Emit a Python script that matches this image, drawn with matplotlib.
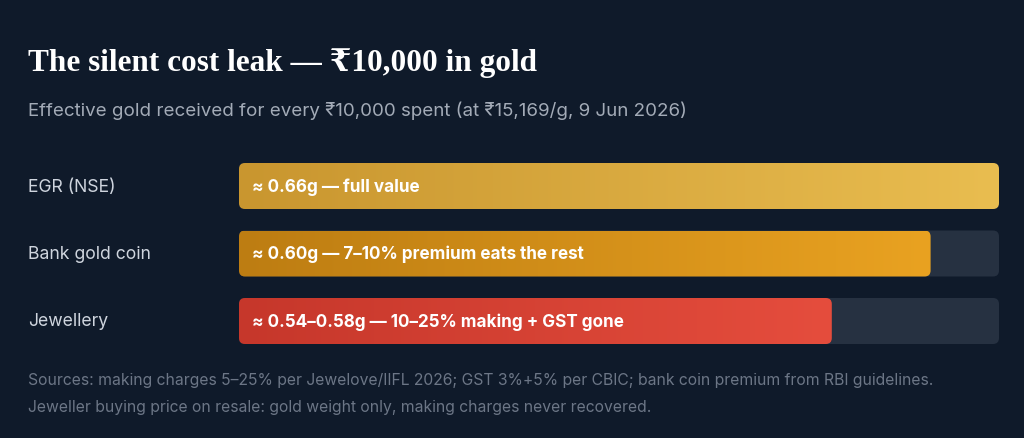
import numpy as np
import matplotlib.pyplot as plt
from matplotlib import rcParams
from matplotlib.patches import FancyBboxPatch
from matplotlib.colors import LinearSegmentedColormap
import matplotlib.transforms as mtransforms

rcParams['font.family'] = ['Inter', 'DejaVu Sans']

# data
categories = ['EGR (NSE)', 'Bank gold coin', 'Jewellery']
share_pct = [100, 91, 78]  # bar length as % of the full-value bar
bar_labels = ['≈ 0.66g — full value',
              '≈ 0.60g — 7–10% premium eats the rest',
              '≈ 0.54–0.58g — 10–25% making + GST gone']
grad_colors = [('#c9962f', '#e9bd50'),
               ('#bd7d12', '#e9a221'),
               ('#c6372b', '#e54d3d')]
title = 'The silent cost leak — ₹10,000 in gold'
subtitle = 'Effective gold received for every ₹10,000 spent (at ₹15,169/g, 9 Jun 2026)'
notes = ['Sources: making charges 5–25% per Jewelove/IIFL 2026; GST 3%+5% per CBIC; '
         'bank coin premium from RBI guidelines.',
         'Jeweller buying price on resale: gold weight only, making charges never recovered.']

bg = '#0f1a2a'
track = '#263141'
W, H = 1024, 439

fig = plt.figure(figsize=(W / 100, H / 100), dpi=100, facecolor=bg)

# bar area: x 239..999 px, rows centred at 186 / 253.5 / 321 px
row_px = 67.5
top_px = 187 - row_px / 2
ax = fig.add_axes([239 / W, 1 - (top_px + 3 * row_px) / H, 760 / W, 3 * row_px / H])
ax.axis('off')

bar_h = 46 / row_px
r_x = 6 / 7.6
aspect = (1 / row_px) / (1 / 7.6)
trans = mtransforms.blended_transform_factory(fig.transFigure, ax.transData)

for i, (cat, pct, lab, (c0, c1)) in enumerate(zip(categories, share_pct, bar_labels, grad_colors)):
    y0 = i - bar_h / 2
    tr = FancyBboxPatch((0, y0), 100, bar_h,
                        boxstyle=f'round,pad=0,rounding_size={r_x}',
                        mutation_aspect=aspect, fc=track, ec='none', zorder=1)
    ax.add_patch(tr)
    bar = FancyBboxPatch((0, y0), pct, bar_h,
                         boxstyle=f'round,pad=0,rounding_size={r_x}',
                         mutation_aspect=aspect, fc='none', ec='none', zorder=2)
    ax.add_patch(bar)
    cmap = LinearSegmentedColormap.from_list(f'g{i}', [c0, c1])
    im = ax.imshow(np.linspace(0, 1, 256).reshape(1, -1), cmap=cmap, aspect='auto',
                   extent=(0, pct, y0 + bar_h, y0), zorder=2, interpolation='bilinear')
    im.set_clip_path(bar)
    ax.text(1.7, i, lab, color='white', fontsize=12.3, fontweight='bold',
            va='center', ha='left', zorder=3)
    ax.text(28 / W, i, cat, transform=trans, color='#cfd5de', fontsize=12.7,
            va='center', ha='left')

ax.set_xlim(0, 100)
ax.set_ylim(2.5, -0.5)

fig.text(28 / W, 1 - 63 / H, title, family=['Liberation Serif', 'DejaVu Serif'],
         fontsize=22.5, fontweight='bold', color='white', va='center', ha='left')
fig.text(28 / W, 1 - 111 / H, subtitle, fontsize=13.5, color='#a3abb7',
         va='center', ha='left')
fig.text(28 / W, 1 - 381 / H, notes[0], fontsize=11.3, color='#6c7686',
         va='center', ha='left')
fig.text(28 / W, 1 - 408 / H, notes[1], fontsize=11.3, color='#6c7686',
         va='center', ha='left')

fig.savefig('out.png', dpi=100, facecolor=bg)
